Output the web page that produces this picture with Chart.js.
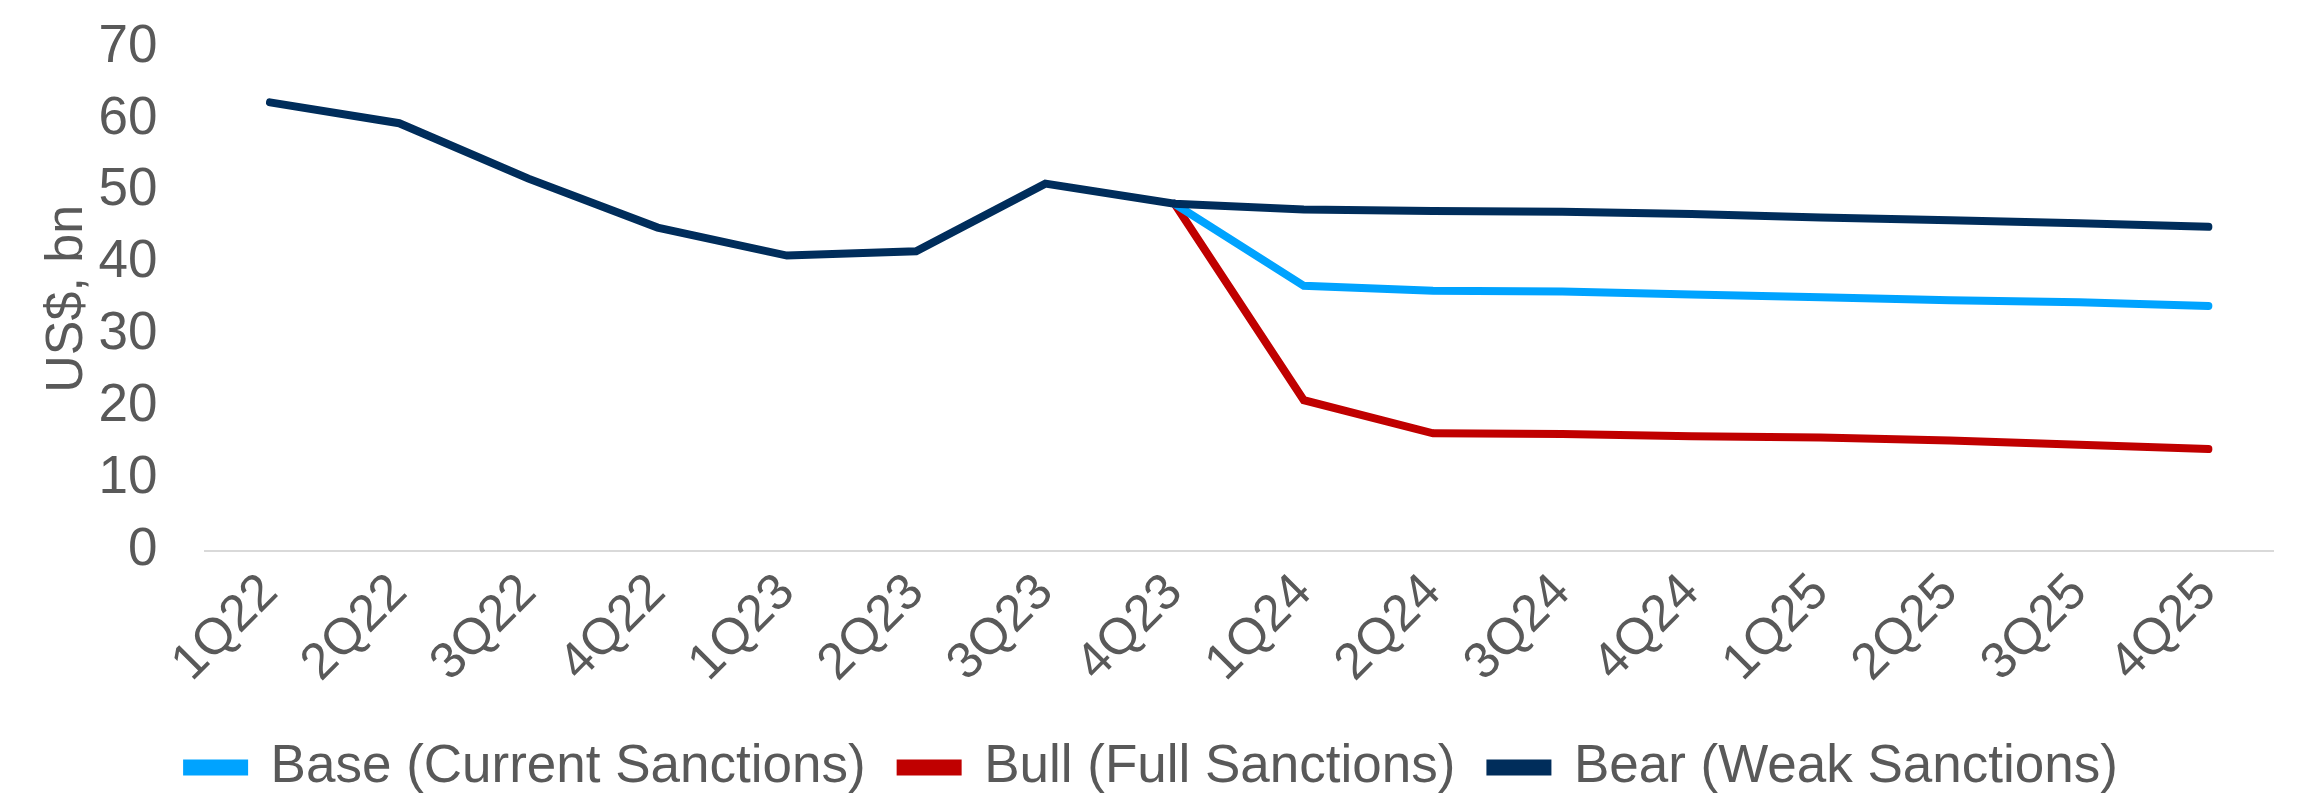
<!DOCTYPE html>
<html lang="en">
<head>
    <meta charset="UTF-8">
    <title>Revenue Scenarios</title>
    <script src="https://cdn.jsdelivr.net/npm/chart.js"></script>
    <style>
        body {
            margin: 0;
            background: #ffffff;
            font-family: "Liberation Sans", Arial, sans-serif;
        }
        #wrap {
            width: 2300px;
            height: 794px;
        }
    </style>
</head>
<body>
    <div id="wrap">
        <canvas id="chart" width="2300" height="794"></canvas>
    </div>

    <script>
        // Quarters on the x axis
        const quarters = ["1Q22", "2Q22", "3Q22", "4Q22", "1Q23", "2Q23", "3Q23", "4Q23",
                          "1Q24", "2Q24", "3Q24", "4Q24", "1Q25", "2Q25", "3Q25", "4Q25"];

        // US$ bn (scenarios start from 4Q23)
        const baseValues = [null, null, null, null, null, null, null, 48.2,
                            36.8, 36.1, 36.0, 35.6, 35.2, 34.8, 34.5, 34.0];
        const bullValues = [null, null, null, null, null, null, null, 48.2,
                            20.9, 16.3, 16.2, 15.9, 15.7, 15.3, 14.7, 14.1];
        const bearValues = [62.3, 59.4, 51.7, 44.9, 41.0, 41.6, 51.0, 48.2,
                            47.4, 47.2, 47.1, 46.8, 46.3, 45.9, 45.5, 45.0];

        const yTicks = [0, 10, 20, 30, 40, 50, 60, 70];

        const textGrey = "#595959";
        const fontFamily = "'Liberation Sans', Arial, sans-serif";

        function line(label, data, color, order) {
            return {
                label: label,
                data: data,
                borderColor: color,
                backgroundColor: color,
                borderWidth: 8,
                borderCapStyle: "round",
                pointRadius: 0,
                tension: 0,
                spanGaps: false,
                order: order
            };
        }

        // let the plot area sit where the reference has it, labels may overhang
        function noEdgePadding(scale) {
            scale.paddingLeft = 0;
            scale.paddingRight = 0;
            scale.paddingTop = 0;
            scale.paddingBottom = 0;
        }

        new Chart(document.getElementById("chart"), {
            type: "line",
            data: {
                labels: quarters,
                datasets: [
                    line("Base (Current Sanctions)", baseValues, "#00A3FF", 1),
                    line("Bull (Full Sanctions)", bullValues, "#C00000", 2),
                    line("Bear (Weak Sanctions)", bearValues, "#002D5B", 0)
                ]
            },
            options: {
                responsive: false,
                animation: false,
                devicePixelRatio: 1,
                layout: {
                    autoPadding: false,
                    padding: { left: 32, right: 27, top: 47, bottom: -10 }
                },
                scales: {
                    x: {
                        offset: true,
                        afterFit: noEdgePadding,
                        grid: { display: false, drawTicks: false },
                        border: { display: true, color: "#D9D9D9", width: 2 },
                        ticks: {
                            color: textGrey,
                            font: { family: fontFamily, size: 51 },
                            minRotation: 45,
                            maxRotation: 45,
                            padding: 12,
                            autoSkip: false
                        }
                    },
                    y: {
                        min: 0,
                        max: 70,
                        afterFit: scale => {
                            noEdgePadding(scale);
                            // tick padding is counted twice in the width, take one back
                            scale.width -= 52;
                        },
                        afterBuildTicks: axis => {
                            axis.ticks = yTicks.map(v => ({ value: v }));
                        },
                        grid: { display: false, drawTicks: false },
                        border: { display: false },
                        ticks: {
                            color: textGrey,
                            font: { family: fontFamily, size: 53 },
                            padding: 48
                        },
                        title: {
                            display: true,
                            text: "US$, bn",
                            color: textGrey,
                            font: { family: fontFamily, size: 52 }
                        }
                    }
                },
                plugins: {
                    tooltip: { enabled: false },
                    legend: {
                        position: "bottom",
                        labels: {
                            color: textGrey,
                            font: { family: fontFamily, size: 53 },
                            boxWidth: 57,
                            boxHeight: 8,
                            padding: 35,
                            sort: (a, b) => a.datasetIndex - b.datasetIndex
                        }
                    }
                }
            }
        });
    </script>
</body>
</html>
